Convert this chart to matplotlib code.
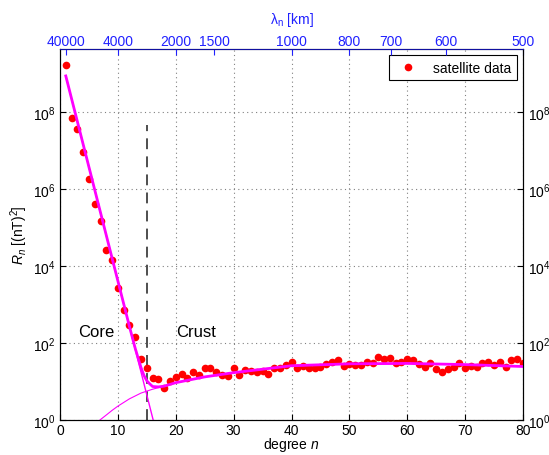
import numpy as np
import matplotlib
matplotlib.use('Agg')
import matplotlib.pyplot as plt
from matplotlib.ticker import NullLocator, FixedLocator

plt.rcParams['font.family'] = ['Liberation Sans', 'DejaVu Sans']
plt.rcParams['mathtext.fontset'] = 'custom'
plt.rcParams['mathtext.rm'] = 'Liberation Sans'
plt.rcParams['mathtext.it'] = 'Liberation Sans:italic'
plt.rcParams['font.size'] = 10

# satellite data: degree n and log10 of R_n
degree = np.arange(1, 81)
log_rn = [9.23, 7.84, 7.56, 6.96, 6.27, 5.61, 5.17, 4.42, 4.17, 3.43,
          2.87, 2.47, 2.15, 1.58, 1.35, 1.10, 1.06, 0.83, 1.01, 1.13,
          1.19, 1.08, 1.26, 1.17, 1.35, 1.35, 1.24, 1.18, 1.15, 1.35,
          1.18, 1.30, 1.28, 1.26, 1.28, 1.19, 1.34, 1.35, 1.44, 1.50,
          1.35, 1.41, 1.35, 1.35, 1.38, 1.45, 1.51, 1.56, 1.41, 1.45,
          1.44, 1.44, 1.51, 1.47, 1.64, 1.58, 1.61, 1.48, 1.50, 1.58,
          1.56, 1.45, 1.39, 1.48, 1.32, 1.24, 1.32, 1.37, 1.47, 1.35,
          1.41, 1.37, 1.47, 1.50, 1.42, 1.50, 1.37, 1.56, 1.58, 1.48]

# core model (straight line in log space)
core_n = [1, 16.1]
core_log = [8.94, 0.0]

# crust model
crust_n = [6.9, 8, 9, 10, 12, 14, 16, 17, 18, 20, 25, 30, 40, 50, 60, 70, 80]
crust_log = [0.0, 0.13, 0.25, 0.36, 0.55, 0.70, 0.80, 0.84, 0.88, 0.97,
             1.12, 1.23, 1.40, 1.46, 1.47, 1.44, 1.39]

# total model (core + crust)
total_n = [1, 12, 13, 14, 14.5, 15, 15.5, 16, 17, 18, 20, 25, 30, 40, 50, 60, 70, 80]
total_log = [8.94, 2.43, 1.86, 1.36, 1.16, 1.02, 0.94, 0.87, 0.86, 0.88, 0.97,
             1.12, 1.23, 1.41, 1.46, 1.47, 1.44, 1.39]

# wavelength ticks on top axis [km]
lambda_km = [40000, 4000, 2000, 1500, 1000, 800, 700, 600, 500]

n_split = 15
blue = '#2020ff'

fig = plt.figure(figsize=(5.49, 4.56), dpi=100)
ax = fig.add_axes([60 / 549, 1 - 421 / 456, 463 / 549, 371 / 456])

ax.plot(degree, 10 ** np.array(log_rn), 'o', color='red', markersize=5.5,
        markeredgewidth=0, label='satellite data', zorder=3)
ax.plot(crust_n, 10 ** np.array(crust_log), color='magenta', linewidth=0.8, zorder=4)
ax.plot(core_n, 10 ** np.array(core_log), color='magenta', linewidth=1.0, zorder=4)
ax.plot(total_n, 10 ** np.array(total_log), color='magenta', linewidth=2.0, zorder=5)
ax.plot([n_split, n_split], [1, 10 ** 7.66], color='#404040', linestyle=(0, (6, 4)),
        linewidth=1.3, zorder=2)

ax.set_yscale('log')
ax.set_xlim(0, 80)
ax.set_ylim(1, 10 ** 9.64)
ax.set_xticks(np.arange(0, 81, 10))
ax.yaxis.set_major_locator(FixedLocator([1, 1e2, 1e4, 1e6, 1e8]))
ax.yaxis.set_minor_locator(NullLocator())
ax.grid(True, linestyle=(0, (1, 3)), color='#808080', linewidth=0.8)
ax.tick_params(direction='in', top=True, right=True, labelright=True,
               labelsize=10, length=4)
ax.tick_params(axis='x', pad=2)

ax.text(3.1, 10 ** 2.29, 'Core', fontsize=12, va='center', ha='left')
ax.text(20, 10 ** 2.29, 'Crust', fontsize=12, va='center', ha='left')

ax.set_xlabel('degree $n$', fontsize=10, labelpad=-1)
ax.set_ylabel('$R_n$ [(nT)$^2$]', fontsize=10, labelpad=2)

leg = ax.legend(loc='upper right', fancybox=False, framealpha=1,
                edgecolor='black', handletextpad=0.8, borderpad=0.4,
                borderaxespad=0.45, fontsize=10)
leg.get_frame().set_linewidth(0.8)

ax2 = ax.twiny()
ax2.set_xlim(ax.get_xlim())
ax2.set_xticks([40000 / lam for lam in lambda_km])
ax2.set_xticklabels([str(lam) for lam in lambda_km])
ax2.tick_params(direction='in', colors=blue, labelsize=10, length=4, pad=1)
ax2.spines['top'].set_color('#1010a0')
ax2.set_xlabel('λ$_\\mathrm{n}$ [km]', color=blue, fontsize=10, labelpad=8)

plt.savefig('out.png', dpi=100)
